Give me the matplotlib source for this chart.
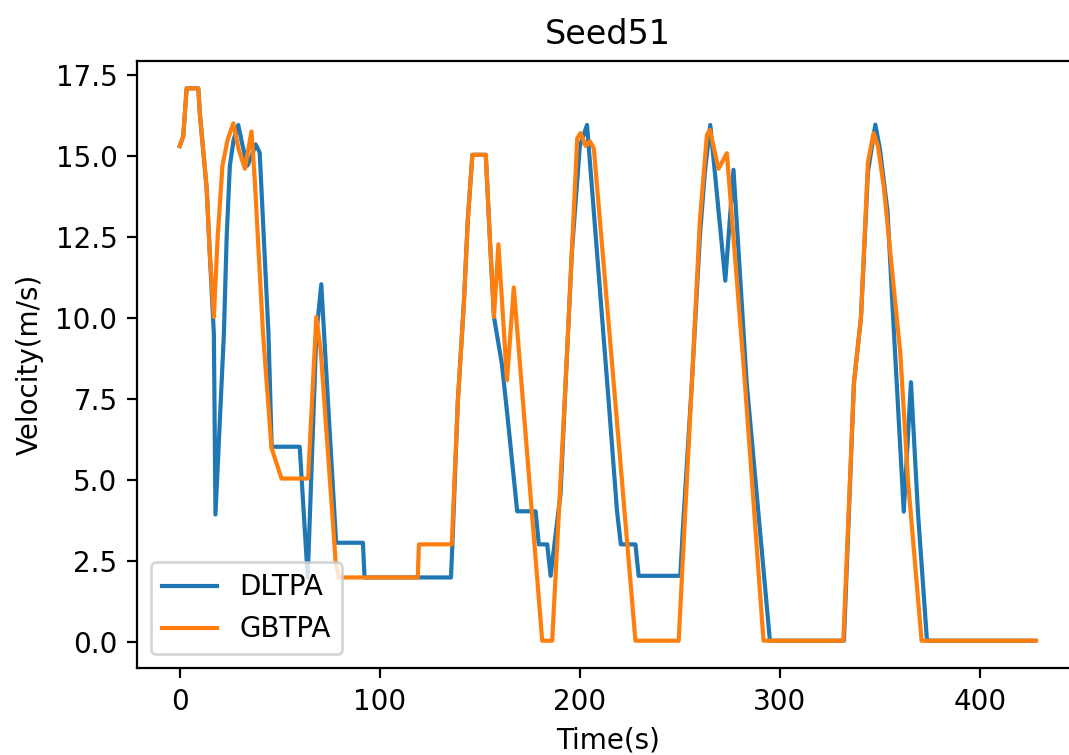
import matplotlib
matplotlib.use('Agg')
import matplotlib.pyplot as plt

# velocity profiles (time in s, velocity in m/s)
dltpa_time = [0, 1.8, 3.5, 9.3, 10.1, 13.5, 15, 17.1, 17.9, 22.1, 23.5, 25.1, 27, 29.3,
              31.5, 33.9, 36, 38, 40, 44.4, 46, 60, 64, 68.3, 70.8, 72.2, 78.2, 91.6,
              92.4, 135.6, 136.3, 139, 142, 144, 146.3, 153, 155, 157.1, 161, 163.7,
              168.7, 177.9, 179.5, 183.7, 185.4, 190.4, 192.9, 196, 200, 203.6, 214.5,
              218.6, 220.5, 227.8, 229.4, 250.2, 251.5, 256, 260, 262.5, 265.2, 272.7,
              276.8, 283.4, 295, 332, 337, 340.5, 344, 347.7, 350, 353.8, 356.6, 361.9,
              365.5, 369, 373.5, 427]
dltpa_vel = [15.3, 15.6, 17.08, 17.08, 16.3, 14.0, 12.06, 9.5, 3.94, 9.5, 12.5, 14.7, 15.5, 15.95,
             15.3, 14.7, 15.0, 15.35, 15.1, 9.5, 6.03, 6.03, 2.0, 9.5, 11.04, 9.5, 3.07, 3.07,
             2.0, 2.0, 3.0, 7.4, 10.4, 13.0, 15.03, 15.03, 12.5, 10.03, 8.6, 7.06,
             4.04, 4.04, 3.02, 3.02, 2.05, 4.6, 8.0, 12.0, 15.3, 15.95, 7.36,
             4.04, 3.02, 3.02, 2.05, 2.05, 3.5, 8.0, 12.5, 14.5, 15.95, 11.15,
             14.57, 8.0, 0.05, 0.05, 8.0, 10.0, 14.5, 15.96, 15.2, 13.28, 10.0, 4.03,
             8.02, 4.0, 0.05, 0.05]

gbtpa_time = [0, 1.8, 3.5, 9.3, 10.1, 13.5, 15, 17.1, 19, 21.4, 24, 26.8, 29.5, 32.6,
              34.3, 35.9, 37.5, 41.7, 45.9, 50.9, 64.2, 68.3, 70.5, 78, 79.5, 119, 119.6,
              136, 139, 142, 144, 146.3, 153, 155, 157.1, 159.3, 163.6, 167, 181.2,
              186.2, 192.9, 198.7, 200.3, 203, 205, 207, 217.8, 227.8, 249.4, 256, 260,
              263.5, 265, 269.3, 273.5, 282.5, 291.8, 331.7, 337, 340.5, 344, 346.8,
              349, 352, 356, 360.2, 364, 370.8, 428]
gbtpa_vel = [15.3, 15.6, 17.08, 17.08, 16.3, 14.0, 12.06, 10.03, 12.5, 14.7, 15.5, 16.0, 15.2, 14.6,
             15.2, 15.75, 14.3, 9.5, 6.0, 5.05, 5.05, 10.03, 9.0, 2.45, 2.0, 2.0, 3.02,
             3.02, 7.4, 10.4, 13.0, 15.03, 15.03, 12.5, 10.03, 12.27, 8.08, 10.94, 0.05,
             0.05, 8.0, 15.54, 15.7, 15.3, 15.45, 15.23, 7.36, 0.05, 0.05, 8.0, 13.0,
             15.64, 15.8, 14.6, 15.08, 8.0, 0.05, 0.05, 8.0, 10.0, 14.8, 15.7,
             15.3, 14.0, 11.5, 8.9, 5.0, 0.05, 0.05]

fig = plt.figure(figsize=(1069 / 200, 755 / 200), dpi=200)
ax = fig.add_axes([0.128, 0.1148, 0.8812, 0.8048])

ax.plot(dltpa_time, dltpa_vel, label='DLTPA')
ax.plot(gbtpa_time, gbtpa_vel, label='GBTPA')

ax.set_title('Seed51')
ax.set_xlabel('Time(s)')
ax.set_ylabel('Velocity(m/s)')
ax.legend(loc='lower left')

plt.savefig('out.png', dpi=200)
